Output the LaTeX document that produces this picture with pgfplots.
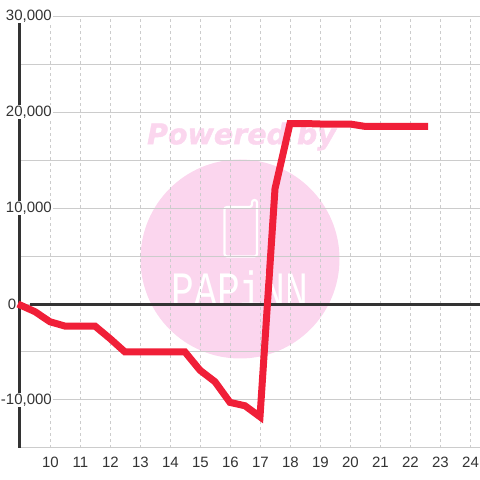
\documentclass[border=0pt]{standalone}
\usepackage{fontspec}
\setmainfont{Liberation Sans}
\newfontfamily\wmfont[BoldItalicFeatures={FakeBold=1.5}]{DejaVu Sans}
\newfontfamily\wmmono{Liberation Mono}
\usepackage{pgfplots}
\pgfplotsset{compat=1.18}
\definecolor{wm}{HTML}{FBD6EE}
\definecolor{gridc}{HTML}{CCCCCC}
\definecolor{axc}{HTML}{333333}
\definecolor{redc}{HTML}{F01F38}
\begin{document}
\begin{tikzpicture}[x=1pt,y=1pt]
\useasboundingbox (-20,-32) rectangle (460,448);
% watermark (pixel X,Y -> X-20, 448-Y)
\fill[wm] (220,189) circle (99.5);
\node[text=wm,font=\wmfont\bfseries\itshape\fontsize{28.5}{30}\selectfont,inner sep=0] at (221.5,311.5) {Powered by};
\draw[white,line width=2.2pt,rounded corners=2.5pt] (204.5,241) -- (232,241) -- (232,248) -- (237,248) -- (237,191.5) -- (204.5,191.5) -- cycle;
\node[text=white,font=\wmmono\fontsize{38}{40}\selectfont,inner sep=0,yscale=1.3] at (220,159) {PAPiNN};
\begin{axis}[
  at={(0,0)},anchor=south west,
  scale only axis,width=460pt,height=432pt,
  xmin=9,xmax=24.3333,ymin=-15000,ymax=30000,
  axis x line*=bottom,
  axis y line*=left,
  x axis line style={draw=none},
  y axis line style={line width=3pt,axc,-},
  xtick={10,...,24},
  ytick={-10000,10000,20000,30000},
  minor ytick={-15000,-5000,0,5000,15000,25000},
  tick style={draw=none},
  xmajorgrids,
  major x grid style={gridc,line width=0.8pt,dash pattern=on 3pt off 3pt},
  ymajorgrids,yminorgrids,
  major y grid style={gridc,line width=1pt},
  minor y grid style={gridc,line width=1pt},
  scaled y ticks=false,
  clip=false,
  /pgf/number format/1000 sep={,},
  /pgf/number format/assume math mode=true,
  tick label style={font=\fontsize{15}{18}\selectfont,text=axc},
  yticklabel style={anchor=east,fill=white,inner xsep=1pt,inner ysep=0.5pt,xshift=33pt},
  xticklabel style={anchor=north,yshift=-5.5pt,xshift=0.5pt},
]
\addplot[no marks,axc,line width=3pt,forget plot] coordinates {(9.33,0) (24.3333,0)};
\addplot[no marks,redc,line width=7pt,line join=miter,line cap=butt] coordinates {
(8.93,0) (9.5,-800) (10,-1850) (10.5,-2300) (11,-2300) (11.5,-2300) (12,-3600) (12.5,-5000)
(13,-5000) (13.5,-5000) (14,-5000) (14.5,-5000) (15,-6900) (15.5,-8100) (16,-10250)
(16.5,-10600) (17,-11750) (17.5,12000) (18,18800) (18.5,18800) (19,18750) (19.5,18750)
(20,18750) (20.5,18500) (21,18500) (21.5,18500) (22,18500) (22.6,18500)};
\node[anchor=east,font=\fontsize{15}{18}\selectfont,text=axc,inner sep=0] at (axis cs:9,0) [xshift=-3.5pt] {0};
\end{axis}
\end{tikzpicture}
\end{document}
